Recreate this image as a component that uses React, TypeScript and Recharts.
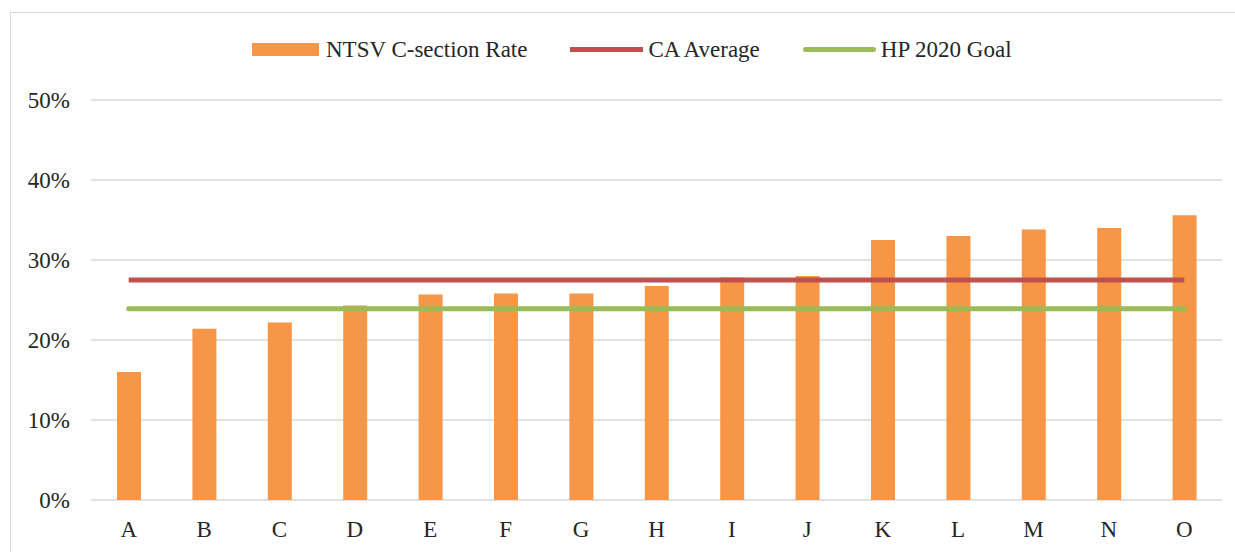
import React from 'react';
import { ComposedChart, Bar, Line, XAxis, YAxis, CartesianGrid, Legend } from 'recharts';

const categories = ['A', 'B', 'C', 'D', 'E', 'F', 'G', 'H', 'I', 'J', 'K', 'L', 'M', 'N', 'O'];
const ntsvRate = [16.0, 21.4, 22.2, 24.3, 25.7, 25.8, 25.8, 26.75, 27.8, 28.0, 32.5, 33.0, 33.8, 34.0, 35.6];
const caAverage = [27.5, 27.5, 27.5, 27.5, 27.5, 27.5, 27.5, 27.5, 27.5, 27.5, 27.5, 27.5, 27.5, 27.5, 27.5];
const hp2020Goal = [23.9, 23.9, 23.9, 23.9, 23.9, 23.9, 23.9, 23.9, 23.9, 23.9, 23.9, 23.9, 23.9, 23.9, 23.9];
const yTicks = [0, 10, 20, 30, 40, 50];
const seriesNames = ['NTSV C-section Rate', 'CA Average', 'HP 2020 Goal'];

const ORANGE = '#F79646';
const RED = '#C0504D';
const GREEN = '#9BBB59';
const TEXT = '#262626';
const FONT = '"Liberation Serif", "Times New Roman", serif';

const data = categories.map((name, i) => ({
  name,
  rate: ntsvRate[i],
  ca: caAverage[i],
  goal: hp2020Goal[i],
}));

const renderLegend = (props: any) => {
  const payload: any[] = props.payload || [];
  const find = (k: string) => payload.find((p) => p.dataKey === k);
  const items = [
    { key: 'rate', name: find('rate')?.value ?? seriesNames[0], color: ORANGE },
    { key: 'ca', name: find('ca')?.value ?? seriesNames[1], color: RED },
    { key: 'goal', name: find('goal')?.value ?? seriesNames[2], color: GREEN },
  ];
  return (
    <div
      style={{
        display: 'flex',
        alignItems: 'center',
        height: 25,
        paddingLeft: 252,
        marginTop: 36.5,
        fontFamily: FONT,
        fontSize: 23,
        lineHeight: '25px',
        color: TEXT,
        whiteSpace: 'nowrap',
      }}
    >
      {items.map((it, i) => (
        <React.Fragment key={it.key}>
          {it.key === 'rate' ? (
            <div style={{ width: 67, height: 13, background: it.color, marginLeft: i === 0 ? 0 : 43 }} />
          ) : (
            <div
              style={{
                width: 73,
                height: 5,
                background: it.color,
                marginLeft: 43,
                borderRadius: it.key === 'goal' ? 2.5 : 0,
              }}
            />
          )}
          <span style={{ marginLeft: it.key === 'rate' ? 7 : 5 }}>{it.name}</span>
        </React.Fragment>
      ))}
    </div>
  );
};

export default function App() {
  return (
    <div
      style={{
        position: 'absolute',
        left: 0,
        top: 0,
        width: 1235,
        height: 552,
        overflow: 'hidden',
        background: '#fff',
      }}
    >
      <div
        style={{
          position: 'absolute',
          left: 10,
          top: 12,
          width: 1400,
          height: 700,
          border: '1.5px solid #d9d9d9',
        }}
      />
      <div style={{ position: 'absolute', left: 0, top: 0 }}>
        <ComposedChart
          width={1235}
          height={552}
          data={data}
          margin={{ top: 100, right: 13, bottom: 22, left: 0 }}
        >
          <CartesianGrid vertical={false} stroke="#d9d9d9" strokeWidth={1.5} />
          <XAxis
            dataKey="name"
            interval={0}
            axisLine={false}
            tickLine={false}
            tickSize={0}
            tickMargin={21}
            height={30}
            tick={{ fill: TEXT, fontSize: 23, fontFamily: FONT }}
          />
          <YAxis
            width={91}
            domain={[0, 50]}
            ticks={yTicks}
            interval={0}
            axisLine={false}
            tickLine={false}
            tickSize={0}
            tickMargin={21}
            tickFormatter={(v: number) => `${v}%`}
            tick={{ fill: TEXT, fontSize: 23, fontFamily: FONT }}
          />
          <Legend
            verticalAlign="middle"
            align="center"
            layout="horizontal"
            wrapperStyle={{ top: 0, left: 0, width: 1235, height: 90 }}
            content={renderLegend}
          />
          <Bar dataKey="rate" name={seriesNames[0]} fill={ORANGE} barSize={24} isAnimationActive={false} />
          <Line
            dataKey="ca"
            name={seriesNames[1]}
            type="linear"
            stroke={RED}
            strokeWidth={5}
            dot={false}
            activeDot={false}
            isAnimationActive={false}
          />
          <Line
            dataKey="goal"
            name={seriesNames[2]}
            type="linear"
            stroke={GREEN}
            strokeWidth={5}
            strokeLinecap="round"
            dot={false}
            activeDot={false}
            isAnimationActive={false}
          />
        </ComposedChart>
      </div>
    </div>
  );
}
